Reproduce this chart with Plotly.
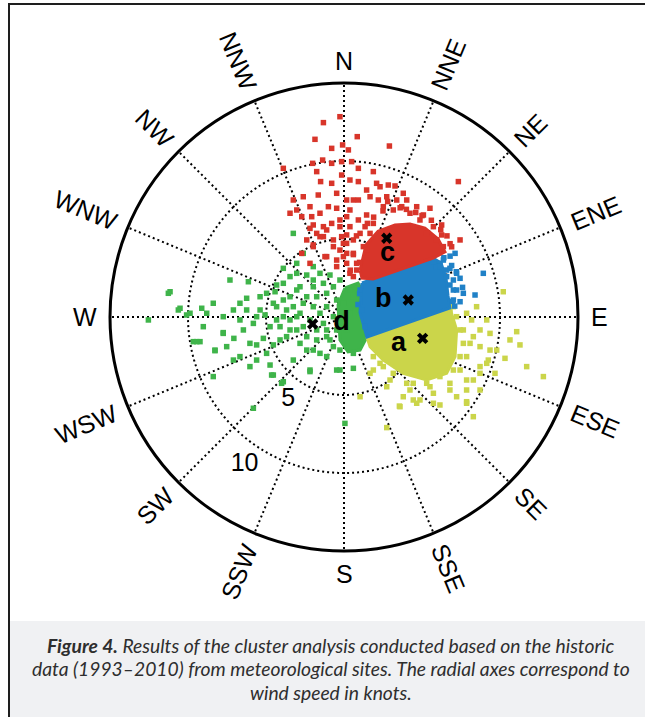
import numpy as np
import plotly.graph_objects as go

# ---------------------------------------------------------------------------
# Wind observations, split by cluster: east / north wind components (knots)
# ---------------------------------------------------------------------------
red_east = [-0.26, -1.32, -1.86, -0.79, -0.09, 0.28, 0.85, 2.91, -2.01, -1.37, -0.79, -0.15, 0.49, 0.92,
            -3.89, -1.75, -0.15, 0.38, 0.92, 1.88, 2.09, 2.84, 3.27, -0.79, -1.50, -2.61, -1.65, -1.00,
            -0.47, -2.07, -2.71, -1.54, 0.17, 0.92, 1.67, 0.38, 1.45, 2.20, 3.38, 4.02, 4.66, 5.51, 4.87,
            5.73, 6.26, 6.26, 7.44, 7.33, -2.18, -1.32, -0.68, -0.15, 0.38, 1.03, 0.92, 0.17, -1.97, 1.67,
            -0.79, -3.03,
            -1.97, -1.11, -0.26, -1.54, -0.68, 0.17, -1.97, -0.26, 0.60, -1.11, 0.17, 0.81, -0.47, 0.60,
            -0.04, -2.18,
            1.5, 2.5, 3.6, 4.6, 5.6, 6.2, 6.8, 0.8, 0.6, 1.0, 2.8, 4.0, 5.0, 6.6, 1.9, 0.4, 6.9,
            2.31, 2.74, 3.16, 3.70, 4.23, 5.09, 4.44, 5.30, 5.94, 6.37, 3.80, 2.52, 1.88, 1.35, 0.60,
            1.24, 0.17, -0.47, -1.22, -1.75, -2.39, -2.71, -1.32, -0.26, 0.60, 1.45, -0.47, -2.18,
            -3.25, -3.46, 0.17, 0.81, 0.38, 1.45, -0.04]
red_north = [12.84, 12.46, 11.39, 10.81, 11.03, 10.71, 11.56, 10.96, 9.85, 10.06, 9.85, 9.96, 9.96, 9.53,
             9.53, 9.32, 9.10, 8.78, 8.68, 9.32, 8.57, 8.46, 8.40, 8.57, 8.68, 7.71, 7.82, 7.07,
             6.97, 6.43, 6.43, 6.65, 7.50, 7.50, 7.71, 6.86, 6.54, 7.50, 7.50, 7.50, 7.07, 6.97, 6.22,
             5.79, 5.90, 5.26, 4.94, 8.68, 5.68, 5.15, 4.51, 5.15, 5.79, 5.36, 6.22, 6.43, 4.51, 5.36,
             6.00, 6.86,
             5.90, 5.58, 5.79, 5.15, 4.94, 5.26, 4.62, 4.29, 4.08, 3.87, 3.44, 3.01, 3.23, 2.59,
             4.72, 3.44,
             6.0, 6.8, 7.0, 6.7, 6.2, 5.6, 4.7, 5.2, 4.0, 3.5, 7.4, 6.9, 6.5, 5.2, 6.4, 3.0, 4.5,
             8.35, 7.71, 6.86, 7.07, 6.65, 6.54, 5.79, 5.36, 4.94, 4.51, 7.93, 7.07, 6.00, 5.79, 4.94,
             4.51, 4.08, 3.65, 3.87, 5.36, 4.94, 4.08, 5.79, 6.22, 7.50, 8.14, 7.93, 7.07,
             7.50, 6.65, 4.72, 3.44, 2.80, 4.29, 3.87]

blue_east = [7.12, 8.93, 8.40, 7.44, 7.22, 6.58, 6.15, 7.01, 5.94, 6.79, 7.44,
             6.9, 7.2, 6.95, 7.1, 6.8, 1.0, 0.9, 6.4, 7.6,
             6.15, 6.58, 7.01, 7.01, 6.37, 5.73, 7.22, 7.65, 6.79, 1.03, 1.13, 1.35]
blue_north = [4.08, 2.80, 1.41, 0.98, 1.73, 3.01, 3.44, 2.37, 3.23, 2.05, 2.48,
              3.3, 2.9, 1.0, 0.7, 3.9, 1.5, 0.8, 3.8, 1.9,
              3.23, 2.59, 1.73, 1.09, 3.65, 3.55, 2.80, 1.52, 3.12, 1.73, 0.45, -0.62]

yellow_east = [10.21, 8.50, 9.15, 11.07, 10.64, 11.28, 11.71, 12.78, 10.32, 9.79, 9.25, 8.72, 9.68, 8.29,
               7.86, 8.72, 7.22, 6.15, 4.87, 3.80, 3.59, 1.03, 2.52, 7.65, 8.08, 7.86, 7.44, 6.79, 5.51,
               4.44, 2.95, 1.88, 8.18, 8.72, 9.36, 7.01, 7.86, 7.86, 8.29, 2.74, 3.55, 4.44, 5.73,
               6.15, 5.30, 4.66, 4.02, 3.16, 2.31, 1.88, 7.01, 7.44, 7.65, 7.44, 7.22, 6.79, 7.86,
               8.72, 9.15, 9.36, 8.72, 8.29, 6.79, 5.73, 4.23, 2.74, 1.67, 4.66, 7.86]
yellow_north = [1.62, 0.66, -0.19, -0.94, -1.47, -1.79, -3.18, -3.82, -2.65, -2.12, -2.76, -3.18, -3.61,
                -4.04, -4.68, -4.68, -5.11, -5.64, -5.32, -5.11, -5.75, -5.11, -3.18, -0.83, -1.69,
                -2.54, -3.40, -4.25, -4.47, -4.25, -4.04, -3.40, -0.19, -0.83, -1.05, 0.66, 0.24,
                -5.43, -6.39, -7.09, -5.71, -5.32, -5.53,
                -3.82, -4.25, -3.61, -4.25, -3.61, -2.97, -2.54, -3.40, -2.54, -1.69, -0.83, 0.02,
                0.45, -4.04, -3.61, -2.97, -2.12, -1.90, -1.26, -4.68, -4.89, -4.68, -4.47, -3.61,
                -5.53, -5.53]

green_east = [-11.15, -12.54, -10.51, -9.12, -8.80, -7.31, -6.13, -6.24, -5.38, -7.09, -6.24, -6.67,
              -5.60, -5.06, -9.02, -7.74, -7.06, -9.23, -8.27, -6.03, -5.60, -5.17, -4.74, -4.32,
              -3.89, -4.32, -3.89, -4.42, -4.32, -3.89, -3.25, -3.03, -2.61, -1.97, -2.39, -1.54,
              -0.90, -3.46, -3.03, -2.61, -3.68, -3.03, -2.61, -3.46, -4.10, -4.53, -4.96, -6.03,
              -7.09, -8.38, -4.74, -4.53, -4.00, -3.25, -2.39, -2.18, -1.54, -1.11, -0.68, -0.26,
              -5.81, -1.97, -1.11, -0.26, 0.38, -1.54, -2.18, -1.11, -1.75, 0.17, 0.60,
              0.06, -2.18, -0.47, 0.60, -3.89, -4.64, -11.26, -10.62, -10.09, -9.44, -8.27, -7.74,
              -2.82, -2.39, -1.97, -1.75, -1.32, -0.68, -0.47, -1.11, -0.68, -1.32, -1.75, -2.39,
              -3.03, -3.46, -3.25, -2.82, -0.90, -0.47, -0.26, -1.11, -1.97, -2.82, -3.68, -4.10,
              -4.53, -4.96, -5.38, -5.81, -6.45, -6.67, -7.74, -8.38, -9.87, -9.66, -7.52, -6.67,
              -5.60, 0.17, 0.38, -0.04, 0.60, -1.97, -3.46, -3.89, -3.03]
green_north = [1.62, -0.19, 0.56, 0.56, 0.24, 2.37, 2.26, 1.20, 1.30, 0.45, 0.45, -0.19,
               0.02, 0.13, -0.62, -1.05, -1.37, -1.58, -2.12, -1.69, -1.79, -1.37, -0.62, -0.19,
               0.02, 0.66, 1.09, 1.62, 2.05, 3.12, 5.36, 3.44, 4.08, 3.23, 2.69, 2.80,
               2.69, 1.30, 1.73, 0.88, 0.45, 0.02, -0.62, -0.83, -1.47, -1.79, -2.33, -3.18,
               -2.76, -3.82, -3.08, -3.72, -4.25, -2.76, -2.12, -3.40, -2.33, -1.26, -1.90, -3.40,
               -5.85, 1.94, 1.52, 2.37, 1.73, 0.24, -0.19, -0.83, -1.47, -1.90, -2.33,
               -6.82, -3.50, -3.40, -3.29, -4.15, -3.72, 1.52, 0.45, 0.13, -1.58, -2.16, -1.00,
               1.94, 1.30, 0.66, 1.30, 2.16, 1.94, 1.09, 0.66, 0.02, -0.41, -0.83, -1.26,
               -0.83, -0.19, 0.66, 0.24, -1.47, -0.83, -2.12, -2.54, -2.12, -1.69, -1.26, -0.62,
               0.88, 1.52, 0.45, -0.41, -0.83, 0.88, 0.02, 0.88, 0.24, -1.58, -1.90, -2.54,
               -2.76, -0.83, 0.24, 0.88, 1.30, 2.37, 2.59, 2.16, 2.80]

# Saturated (overplotted) core of each cluster, outlined in knots
red_core_east = [1.03, 1.41, 2.18, 3.27, 4.23, 5.19, 6.03, 6.47, 5.71, 1.86, 1.15]
red_core_north = [3.01, 4.62, 5.50, 5.90, 5.96, 5.70, 5.00, 4.17, 3.78, 2.44, 2.50]
blue_core_east = [1.15, 5.71, 6.22, 6.54, 6.67, 6.79, 1.47, 1.03]
blue_core_north = [2.18, 3.78, 3.46, 2.50, 1.35, 0.58, -1.28, 0.26]
yellow_core_east = [1.47, 6.79, 7.22, 7.12, 6.58, 5.30, 3.80, 2.52, 1.67]
yellow_core_north = [-1.28, 0.58, -0.83, -2.54, -3.61, -4.04, -3.61, -2.76, -1.90]
green_core_east = [0.06, 0.90, 1.15, 1.15, 1.47, 1.03, 0.26, -0.26, -0.38]
green_core_north = [1.86, 2.18, 1.73, 0.26, -1.28, -2.12, -2.24, -1.47, 0.77]

# Cluster centroids (knots) and their names
cluster_names = ["a", "b", "c", "d"]
centroid_east = [5.04, 4.12, 2.74, -2.01]
centroid_north = [-1.37, 1.09, 5.05, -0.45]

# Axis definition
ring_values = [5, 10]
r_max = 15
directions = ["N", "NNE", "NE", "ENE", "E", "ESE", "SE", "SSE",
              "S", "SSW", "SW", "WSW", "W", "WNW", "NW", "NNW"]

caption_lines = [
    "<b>Figure 4.</b> Results of the cluster analysis conducted based on the historic",
    "data (1993–2010) from meteorological sites. The radial axes correspond to",
    "wind speed in knots.",
]

# ---------------------------------------------------------------------------
RED, BLUE, YELLOW, GREEN = "#d8352a", "#2081c7", "#cbd54a", "#3fb44a"
FONT = "Liberation Sans, Arial, sans-serif"
W, H = 645, 717
CX, CY, RPX = 344, 317, 234          # polar centre and outer radius (px)


def to_polar(east, north):
    e = np.asarray(east, float)
    n = np.asarray(north, float)
    return np.hypot(e, n), np.degrees(np.arctan2(e, n)) % 360


fig = go.Figure()

# dotted grid: rings and 16 spokes
grid_line = dict(color="black", width=2, dash="2px,3px")
circle_t = np.linspace(0, 360, 361)
for rv in ring_values:
    fig.add_trace(go.Scatterpolar(r=np.full_like(circle_t, rv), theta=circle_t, mode="lines",
                                  line=grid_line, hoverinfo="skip", showlegend=False))
for k in range(len(directions)):
    fig.add_trace(go.Scatterpolar(r=[0, r_max], theta=[k * 22.5] * 2, mode="lines",
                                  line=grid_line, hoverinfo="skip", showlegend=False))

# clusters: filled core + individual observations
clusters = [
    (GREEN, green_core_east, green_core_north, green_east, green_north),
    (YELLOW, yellow_core_east, yellow_core_north, yellow_east, yellow_north),
    (BLUE, blue_core_east, blue_core_north, blue_east, blue_north),
    (RED, red_core_east, red_core_north, red_east, red_north),
]
for color, ce, cn, pe, pn in clusters:
    r, t = to_polar(ce, cn)
    fig.add_trace(go.Scatterpolar(r=np.append(r, r[0]), theta=np.append(t, t[0]), mode="lines",
                                  fill="toself", fillcolor=color, line=dict(color=color, width=3),
                                  hoverinfo="skip", showlegend=False))
    r, t = to_polar(pe, pn)
    fig.add_trace(go.Scatterpolar(r=r, theta=t, mode="markers",
                                  marker=dict(color=color, size=5.5, symbol="square"),
                                  showlegend=False))

# centroids
r, t = to_polar(centroid_east, centroid_north)
fig.add_trace(go.Scatterpolar(r=r, theta=t, mode="markers",
                              marker=dict(symbol="x", size=10, color="black"),
                              showlegend=False))

# cluster letters, offset (knots) from each centroid
label_shift = {"a": (-1.55, -0.4), "b": (-1.6, 0.0), "c": (0.05, -1.0), "d": (1.85, 0.05)}
le = [centroid_east[i] + label_shift[n][0] for i, n in enumerate(cluster_names)]
ln = [centroid_north[i] + label_shift[n][1] for i, n in enumerate(cluster_names)]
r, t = to_polar(le, ln)
fig.add_trace(go.Scatterpolar(r=r, theta=t, mode="text", text=cluster_names,
                              textfont=dict(family=FONT, size=27, color="black", weight="bold"),
                              showlegend=False, hoverinfo="skip"))

# ring labels
fig.add_trace(go.Scatterpolar(r=[v + 1.4 for v in ring_values], theta=[214] * len(ring_values),
                              mode="text", text=[str(v) for v in ring_values],
                              textfont=dict(family=FONT, size=25, color="black"),
                              showlegend=False, hoverinfo="skip"))

# compass labels around the rim, rotated along the radius
annotations = []
char_w = {"N": 0.722, "E": 0.667, "S": 0.667, "W": 0.944}
for k, name in enumerate(directions):
    ang = k * 22.5
    if ang % 90 == 0:
        tilt = 0
        ext = 19 if ang in (0, 180) else 25 * char_w[name]
    else:
        tilt = -(90 - ang) if ang < 180 else -(270 - ang)   # keep text upright
        ext = 25 * sum(char_w[c] for c in name)
    rad = RPX + 13 + ext / 2
    px = CX + rad * np.sin(np.radians(ang))
    py = CY - rad * np.cos(np.radians(ang))
    annotations.append(dict(x=px / W, y=1 - py / H, xref="paper", yref="paper", text=name,
                            showarrow=False, textangle=tilt, xanchor="center", yanchor="middle",
                            font=dict(family=FONT, size=25, color="black")))

# caption, one annotation per line
for i, line in enumerate(caption_lines):
    annotations.append(dict(x=331 / W, y=1 - (645 + 23.5 * i) / H, xref="paper", yref="paper",
                            text=line, showarrow=False, xanchor="center", yanchor="middle",
                            font=dict(family="Lato, Open Sans, sans-serif", size=19.3,
                                      color="#2e2e2e", style="italic")))

shapes = [
    dict(type="rect", xref="paper", yref="paper", x0=10 / W, x1=1.02, y0=-0.02, y1=1 - 621 / H,
         fillcolor="#f0f1f3", line=dict(width=0), layer="below"),
    dict(type="rect", xref="paper", yref="paper", x0=9 / W, x1=1.05, y0=-0.05, y1=1 - 4 / H,
         line=dict(color="#1e1e1e", width=2), layer="above"),
]

fig.update_layout(
    width=W, height=H, margin=dict(l=0, r=0, t=0, b=0),
    paper_bgcolor="white", plot_bgcolor="white",
    polar=dict(
        domain=dict(x=[(CX - RPX) / W, (CX + RPX) / W], y=[1 - (CY + RPX) / H, 1 - (CY - RPX) / H]),
        bgcolor="white",
        radialaxis=dict(range=[0, r_max], showgrid=False, showticklabels=False, showline=False,
                        ticks=""),
        angularaxis=dict(rotation=90, direction="clockwise", showgrid=False, showticklabels=False,
                         ticks="", showline=True, linecolor="black", linewidth=3),
    ),
    annotations=annotations, shapes=shapes, showlegend=False,
)

fig.write_html("out.html")
